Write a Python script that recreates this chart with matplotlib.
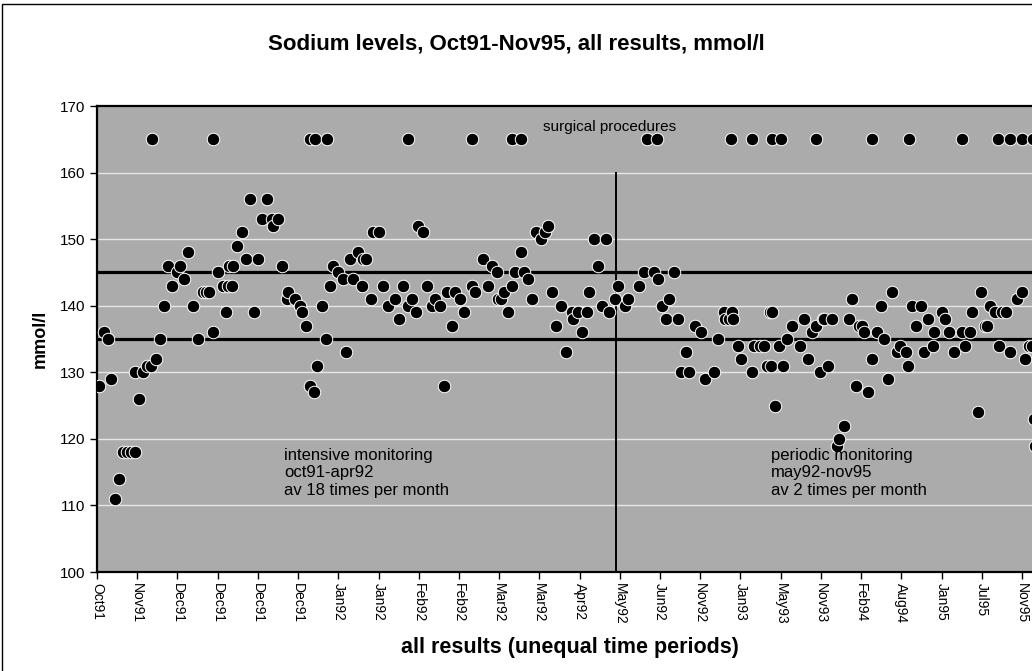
import numpy as np
import matplotlib
matplotlib.use('Agg')
import matplotlib.pyplot as plt
from matplotlib.patches import Rectangle

plt.rcParams['font.family'] = ['Liberation Sans', 'DejaVu Sans']

# Sodium results, x = position along the (unequal) results axis, one label every 40 units
result_x = [2, 7, 11, 14, 18, 22, 26, 30, 34, 38, 38, 42, 46, 50, 54, 59, 63, 67, 71, 75,
            80, 83, 87, 91, 95, 100, 105, 108, 111, 115, 120, 125, 128, 130, 131,
            134, 135, 139, 144, 148, 152, 156, 160, 164, 169, 174, 175, 180, 184, 189,
            190, 197, 202, 204, 208, 212, 216, 219, 224, 228, 232, 235, 240, 245, 248,
            252, 255, 260, 264, 265,
            268, 273, 275, 280, 284, 289, 296, 300, 304, 309, 313, 317, 319, 324, 328,
            333, 336, 341, 345, 348, 353, 356, 361, 365, 373, 376, 384, 389, 393, 398, 399,
            402, 405, 409, 413, 416, 422, 425, 429, 433, 437, 442, 446, 449, 453, 457,
            462, 466, 472, 473, 478, 482, 487, 489, 494, 498, 502, 506, 509, 515, 518,
            525, 528,
            539, 544, 554, 558, 562, 566, 569, 574, 578, 581, 586, 589, 595, 601, 605,
            614, 618, 624, 625, 629, 632, 633, 638, 641, 651, 653, 659, 663, 666, 669,
            670, 671, 674, 678, 682, 686, 691, 699, 703, 707, 711, 715, 719, 722, 723,
            727, 731, 736, 738, 743, 748, 751, 755, 758, 761, 763, 767, 771, 776, 780,
            783, 787, 791, 796,
            799, 805, 807, 811, 815, 820, 823, 827, 832, 833, 840, 843, 847, 852, 860,
            863, 868, 870, 876, 879, 883, 885, 888, 893, 897, 900, 904, 908, 915, 920,
            923, 927, 930, 932, 933]
sodium = [128, 136, 135, 129, 111, 114, 118, 118, 118, 118, 130, 126, 130, 131, 131, 132, 135, 140, 146, 143,
          145, 146, 144, 148, 140, 135, 142, 142, 142, 136, 145, 143, 139, 143, 146,
          143, 146, 149, 151, 147, 156, 139, 147, 153, 156, 153, 152, 153, 146, 141,
          142, 141, 140, 139, 137, 128, 127, 131, 140, 135, 143, 146, 145, 144, 133,
          147, 144, 148, 143, 147,
          147, 141, 151, 151, 143, 140, 141, 138, 143, 140, 141, 139, 152, 151, 143,
          140, 141, 140, 128, 142, 137, 142, 141, 139, 143, 142, 147, 143, 146, 145, 141,
          141, 142, 139, 143, 145, 148, 145, 144, 141, 151, 150, 151, 152, 142, 137,
          140, 133, 139, 138, 139, 136, 139, 142, 150, 146, 140, 150, 139, 141, 143,
          140, 141,
          143, 145, 145, 144, 140, 138, 141, 145, 138, 130, 133, 130, 137, 136, 129,
          130, 135, 139, 138, 138, 139, 138, 134, 132, 130, 134, 134, 134, 131, 139,
          131, 139, 125, 134, 131, 135, 137, 134, 138, 132, 136, 137, 130, 138, 138,
          131, 138, 119, 120, 122, 138, 141, 128, 137, 137, 136, 127, 132, 136, 140,
          135, 129, 142, 133,
          134, 133, 131, 140, 137, 140, 133, 138, 134, 136, 139, 138, 136, 133, 136,
          134, 136, 139, 124, 142, 137, 137, 140, 139, 134, 139, 139, 133, 141, 142,
          132, 134, 134, 123, 119]

# surgical procedures, plotted as a row at 165
surgery_x = [55, 115, 212, 217, 229, 309, 373, 413, 422, 547, 557, 631, 651, 671,
             680, 715, 771, 808, 860, 896, 908, 920, 931]
surgery_level = 165

tick_labels = ['Oct91', 'Nov91', 'Dec91', 'Dec91', 'Dec91', 'Dec91', 'Jan92', 'Jan92',
               'Feb92', 'Feb92', 'Mar92', 'Mar92', 'Apr92', 'May92', 'Jun92', 'Nov92',
               'Jan93', 'May93', 'Nov93', 'Feb94', 'Aug94', 'Jan95', 'Jul95', 'Nov95']
label_step = 40
normal_low, normal_high = 135, 145
regime_change = 516   # between Apr92 and May92

fig = plt.figure(figsize=(10.32, 6.71), dpi=100)
ax = fig.add_axes([97/1032, 1 - 572/671, 935/1032, 466/671])
ax.set_facecolor('#ababab')

# thin light grid lines
for yv in range(110, 170, 10):
    ax.axhline(yv, color='#e6e6e6', linewidth=1.0, zorder=1)

# normal range
ax.axhline(normal_low, color='black', linewidth=2.3, zorder=2)
ax.axhline(normal_high, color='black', linewidth=2.3, zorder=2)
ax.plot([regime_change, regime_change], [100, 160], color='black', linewidth=1.4, zorder=2)

ax.plot(result_x, sodium, linestyle='none', marker='o', markersize=9,
        markerfacecolor='black', markeredgecolor='white', markeredgewidth=0.7, zorder=3)
ax.plot(surgery_x, [surgery_level]*len(surgery_x), linestyle='none', marker='o',
        markersize=9, markerfacecolor='black', markeredgecolor='white',
        markeredgewidth=0.7, zorder=3)

ax.text(444, 166.8, 'surgical procedures', fontsize=11, va='center', ha='left')
ax.text(186, 114.9, 'intensive monitoring\noct91-apr92\nav 18 times per month',
        fontsize=12, va='center', ha='left', linespacing=1.2)
ax.text(670, 114.9, 'periodic monitoring\nmay92-nov95\nav 2 times per month',
        fontsize=12, va='center', ha='left', linespacing=1.2)

ax.set_xlim(0, 930)
ax.set_ylim(100, 170)
ax.set_yticks(range(100, 171, 10))
ax.set_xticks(np.arange(len(tick_labels)) * label_step)
ax.set_xticklabels(tick_labels, rotation=270, fontsize=10)
plt.setp(ax.get_ymajorticklabels(), fontsize=11)
ax.tick_params(axis='both', direction='out', length=5, width=1, color='black')
ax.tick_params(axis='x', pad=3)

for side in ['left', 'bottom', 'top']:
    ax.spines[side].set_linewidth(1.6)
ax.spines['right'].set_visible(False)

ax.set_ylabel('mmol/l', fontsize=13, weight='bold', labelpad=8)
fig.text(0.5, 1 - 44/671, 'Sodium levels, Oct91-Nov95, all results, mmol/l',
         fontsize=16, weight='bold', ha='center', va='center')
fig.text(570/1032, 1 - 647/671, 'all results (unequal time periods)',
         fontsize=15.5, weight='bold', ha='center', va='center')

# frame round the whole figure
fig.patches.append(Rectangle((2/1032, -0.01), 1.02, 1 - 4/671 + 0.01,
                             transform=fig.transFigure, fill=False,
                             edgecolor='black', linewidth=1.0))

fig.savefig('out.png', dpi=100)
